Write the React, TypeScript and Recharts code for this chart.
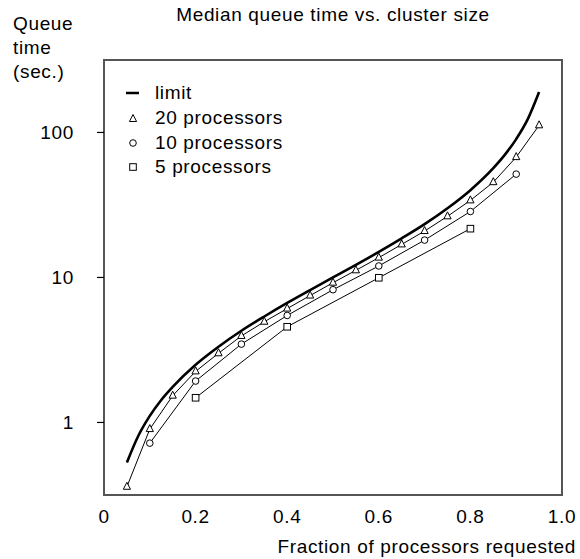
import { LineChart, Line, XAxis, YAxis, ReferenceArea, Legend, Customized } from 'recharts'

// limit curve
const limitFractions = [0.05, 0.075, 0.1, 0.125, 0.15, 0.2, 0.25, 0.3, 0.35, 0.4, 0.45, 0.5, 0.55, 0.6, 0.65, 0.7, 0.75, 0.8, 0.85, 0.875, 0.9, 0.925, 0.95]
const limitQueue = [0.53, 0.81, 1.11, 1.43, 1.76, 2.5, 3.33, 4.29, 5.38, 6.67, 8.18, 10, 12.2, 15, 18.6, 23.3, 30, 40, 56.7, 70, 90, 123, 190]

const fractions20 = [0.05, 0.1, 0.15, 0.2, 0.25, 0.3, 0.35, 0.4, 0.45, 0.5, 0.55, 0.6, 0.65, 0.7, 0.75, 0.8, 0.85, 0.9, 0.95]
const queue20 = [0.36, 0.9, 1.53, 2.25, 3.0, 3.95, 4.95, 6.1, 7.5, 9.2, 11.2, 13.7, 16.9, 20.9, 26.4, 34, 45.4, 67.6, 112]

const fractions10 = [0.1, 0.2, 0.3, 0.4, 0.5, 0.6, 0.7, 0.8, 0.9]
const queue10 = [0.72, 1.93, 3.47, 5.47, 8.23, 12.0, 18.1, 28.5, 51.6]

const fractions5 = [0.2, 0.4, 0.6, 0.8]
const queue5 = [1.48, 4.57, 9.95, 21.7]

const xTicks = [0, 0.2, 0.4, 0.6, 0.8, 1.0]
const xTickLabels = ['0', '0.2', '0.4', '0.6', '0.8', '1.0']
const yTicks = [1, 10, 100]
const yDomain = [0.316, 316]

const seriesNames = ['limit', '20 processors', '10 processors', '5 processors']

const toPoints = (xs: number[], ys: number[]) => xs.map((x, i) => ({ x, y: ys[i] }))

const FONT = '"Liberation Sans", Arial, Helvetica, sans-serif'
const SPACING = 0.65

const Triangle = (props: any) => {
  const { cx, cy } = props
  if (cx == null || cy == null) return null
  return <path key={`t-${cx}`} d={`M${cx},${cy - 4.5}L${cx - 3.6},${cy + 2.5}L${cx + 3.6},${cy + 2.5}Z`} fill="#fff" stroke="#000" strokeWidth={1} />
}

const Circle = (props: any) => {
  const { cx, cy } = props
  if (cx == null || cy == null) return null
  return <circle key={`c-${cx}`} cx={cx} cy={cy} r={3.3} fill="#fff" stroke="#000" strokeWidth={1} />
}

const Square = (props: any) => {
  const { cx, cy } = props
  if (cx == null || cy == null) return null
  return <rect key={`s-${cx}`} x={cx - 3.3} y={cy - 3.3} width={6.6} height={6.6} fill="#fff" stroke="#000" strokeWidth={1} />
}

const legendIcon = (name: string) => {
  if (name === 'limit') return <line x1={0} y1={7} x2={13} y2={7} stroke="#000" strokeWidth={2.5} />
  if (name === '20 processors') return <Triangle cx={7} cy={8} />
  if (name === '10 processors') return <Circle cx={7} cy={7} />
  return <Square cx={7} cy={7} />
}

const renderLegend = () => (
  <div style={{ display: 'flex', flexDirection: 'column', fontFamily: FONT }}>
    {seriesNames.map((name) => (
      <div key={name} style={{ height: 24.7, display: 'flex', alignItems: 'center' }}>
        <svg width={14} height={14}>{legendIcon(name)}</svg>
        <span style={{ marginLeft: 15, fontSize: 19, letterSpacing: SPACING, color: '#000', lineHeight: '24px' }}>{name}</span>
      </div>
    ))}
  </div>
)

const Labels = () => (
  <g fontFamily={FONT} fontSize={19} fill="#000" letterSpacing={SPACING}>
    <text x={333} y={21} textAnchor="middle">Median queue time vs. cluster size</text>
    <text x={13} y={30}>Queue</text>
    <text x={13} y={54}>time</text>
    <text x={13} y={78}>(sec.)</text>
    <text x={576} y={553} textAnchor="end">Fraction of processors requested</text>
  </g>
)

export default function App() {
  return (
    <div style={{ position: 'absolute', left: 0, top: 0, width: 580, height: 559, background: '#fff', fontFamily: FONT }}>
      <LineChart width={580} height={559} margin={{ top: 60, right: 18, bottom: 34, left: 0 }}>
        <XAxis
          dataKey="x"
          type="number"
          domain={[0, 1]}
          ticks={xTicks}
          allowDataOverflow
          tickFormatter={(v: number) => xTickLabels[xTicks.indexOf(v)]}
          axisLine={false}
          tickLine={false}
          tickSize={0}
          tickMargin={15}
          height={30}
          tick={{ fontSize: 19, fill: '#000', letterSpacing: SPACING, fontFamily: FONT }}
        />
        <YAxis
          type="number"
          scale="log"
          domain={yDomain}
          ticks={yTicks}
          allowDataOverflow
          width={104}
          axisLine={false}
          tickLine={{ stroke: '#000', strokeWidth: 1.2 }}
          tickSize={7}
          tickMargin={23}
          tickFormatter={(v: number) => String(v)}
          tick={{ fontSize: 19, fill: '#000', letterSpacing: SPACING, fontFamily: FONT }}
        />
        <ReferenceArea x1={0} x2={1} y1={yDomain[0]} y2={yDomain[1]} fill="none" stroke="#555" strokeWidth={2} ifOverflow="visible" />
        <Line name={seriesNames[0]} data={toPoints(limitFractions, limitQueue)} dataKey="y" type="monotone" stroke="#000" strokeWidth={2.6} dot={false} isAnimationActive={false} />
        <Line name={seriesNames[1]} data={toPoints(fractions20, queue20)} dataKey="y" type="linear" stroke="#000" strokeWidth={1} dot={Triangle} isAnimationActive={false} />
        <Line name={seriesNames[2]} data={toPoints(fractions10, queue10)} dataKey="y" type="linear" stroke="#000" strokeWidth={1} dot={Circle} isAnimationActive={false} />
        <Line name={seriesNames[3]} data={toPoints(fractions5, queue5)} dataKey="y" type="linear" stroke="#000" strokeWidth={1} dot={Square} isAnimationActive={false} />
        <Legend
          layout="vertical"
          align="center"
          verticalAlign="middle"
          content={renderLegend}
          wrapperStyle={{ left: 126, top: 81, width: 'auto', height: 'auto' }}
        />
        <Customized component={Labels} />
      </LineChart>
    </div>
  )
}
